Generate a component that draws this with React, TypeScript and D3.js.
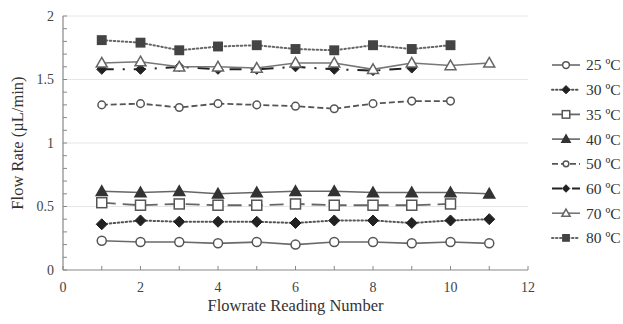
import React from "react";
import * as d3 from "d3";

const readings25 = [1, 2, 3, 4, 5, 6, 7, 8, 9, 10, 11];
const flow25 = [0.23, 0.22, 0.22, 0.21, 0.22, 0.2, 0.22, 0.22, 0.21, 0.22, 0.21];
const readings30 = [1, 2, 3, 4, 5, 6, 7, 8, 9, 10, 11];
const flow30 = [0.36, 0.39, 0.38, 0.38, 0.38, 0.37, 0.39, 0.39, 0.37, 0.39, 0.4];
const readings35 = [1, 2, 3, 4, 5, 6, 7, 8, 9, 10];
const flow35 = [0.53, 0.51, 0.52, 0.51, 0.51, 0.52, 0.51, 0.51, 0.51, 0.52];
const readings40 = [1, 2, 3, 4, 5, 6, 7, 8, 9, 10, 11];
const flow40 = [0.62, 0.61, 0.62, 0.6, 0.61, 0.62, 0.62, 0.61, 0.61, 0.61, 0.6];
const readings50 = [1, 2, 3, 4, 5, 6, 7, 8, 9, 10];
const flow50 = [1.3, 1.31, 1.28, 1.31, 1.3, 1.29, 1.27, 1.31, 1.33, 1.33];
const readings60 = [1, 2, 3, 4, 5, 6, 7, 8, 9];
const flow60 = [1.58, 1.58, 1.6, 1.58, 1.58, 1.6, 1.58, 1.57, 1.59];
const readings70 = [1, 2, 3, 4, 5, 6, 7, 8, 9, 10, 11];
const flow70 = [1.63, 1.64, 1.6, 1.6, 1.59, 1.63, 1.63, 1.58, 1.63, 1.61, 1.63];
const readings80 = [1, 2, 3, 4, 5, 6, 7, 8, 9, 10];
const flow80 = [1.81, 1.79, 1.73, 1.76, 1.77, 1.74, 1.73, 1.77, 1.74, 1.77];

const seriesNames = ["25 ºC", "30 ºC", "35 ºC", "40 ºC", "50 ºC", "60 ºC", "70 ºC", "80 ºC"];
const xTicks = [0, 2, 4, 6, 8, 10, 12];
const yTicks = [0, 0.5, 1, 1.5, 2];
const xTitle = "Flowrate Reading Number";
const yTitle = "Flow Rate (µL/min)";

type Style = {
  stroke: string;
  width: number;
  dash: string;
  marker: "circle" | "diamond" | "square" | "triangle" | "smallcircle";
  fill: string;
  mstroke: string;
  size: number;
};

const styles: Style[] = [
  { stroke: "#6a6a6a", width: 1.6, dash: "", marker: "circle", fill: "#fff", mstroke: "#555", size: 4.5 },
  { stroke: "#555", width: 2, dash: "1.5,2.5", marker: "diamond", fill: "#222", mstroke: "#222", size: 5.5 },
  { stroke: "#666", width: 1.8, dash: "14,7", marker: "square", fill: "#fff", mstroke: "#555", size: 5 },
  { stroke: "#666", width: 1.6, dash: "", marker: "triangle", fill: "#333", mstroke: "#333", size: 5.5 },
  { stroke: "#555", width: 1.8, dash: "6,3", marker: "smallcircle", fill: "#fff", mstroke: "#555", size: 3.8 },
  { stroke: "#222", width: 2, dash: "12,9,2,9", marker: "diamond", fill: "#222", mstroke: "#222", size: 5 },
  { stroke: "#777", width: 1.6, dash: "", marker: "triangle", fill: "#fff", mstroke: "#666", size: 5.5 },
  { stroke: "#666", width: 2, dash: "1.5,2.5", marker: "square", fill: "#444", mstroke: "#444", size: 4.2 },
];

const allX = [readings25, readings30, readings35, readings40, readings50, readings60, readings70, readings80];
const allY = [flow25, flow30, flow35, flow40, flow50, flow60, flow70, flow80];

function Marker({ s, x, y }: { s: Style; x: number; y: number }) {
  const r = s.size;
  if (s.marker === "circle" || s.marker === "smallcircle")
    return <circle cx={x} cy={y} r={r} fill={s.fill} stroke={s.mstroke} strokeWidth={1.5} />;
  if (s.marker === "square")
    return <rect x={x - r} y={y - r} width={2 * r} height={2 * r} fill={s.fill} stroke={s.mstroke} strokeWidth={1.5} />;
  if (s.marker === "diamond")
    return <path d={`M${x},${y - r}L${x + r},${y}L${x},${y + r}L${x - r},${y}Z`} fill={s.fill} stroke={s.mstroke} strokeWidth={1} />;
  return (
    <path
      d={`M${x},${y - r}L${x + r},${y + r * 0.75}L${x - r},${y + r * 0.75}Z`}
      fill={s.fill}
      stroke={s.mstroke}
      strokeWidth={1.5}
    />
  );
}

export default function App() {
  const W = 623;
  const H = 324;
  const x = d3.scaleLinear().domain([0, 12]).range([63, 528]);
  const y = d3.scaleLinear().domain([0, 2]).range([270, 16]);
  const line = d3.line<[number, number]>().x((d) => x(d[0])).y((d) => y(d[1]));
  const minorY = d3.range(0, 2.0001, 0.1);
  const minorX = d3.range(0, 12.0001, 1);
  const font = "Liberation Serif, Tinos, DejaVu Serif, Times New Roman, serif";
  const ts = { fontFamily: font };

  return (
    <svg width={W} height={H} style={{ position: "absolute", left: 0, top: 0, background: "#fff" }}>
      {yTicks.slice(1).map((t) => (
        <line key={"g" + t} x1={x(0)} x2={x(12)} y1={y(t)} y2={y(t)} stroke="#e6e6e6" strokeWidth={1} />
      ))}
      {/* axes */}
      <line x1={x(0)} x2={x(0)} y1={y(0)} y2={y(2)} stroke="#888" strokeWidth={1.2} />
      <line x1={x(0)} x2={x(12)} y1={y(0)} y2={y(0)} stroke="#888" strokeWidth={1.2} />
      {minorY.map((t, i) => (
        <line key={"ty" + i} x1={x(0)} x2={x(0) + 4} y1={y(t)} y2={y(t)} stroke="#888" strokeWidth={1} />
      ))}
      {minorX.map((t, i) => (
        <line key={"tx" + i} x1={x(t)} x2={x(t)} y1={y(0)} y2={y(0) - 4} stroke="#888" strokeWidth={1} />
      ))}
      {yTicks.map((t) => (
        <text key={"yl" + t} x={x(0) - 9} y={y(t)} dy="0.35em" textAnchor="end" style={ts} fontSize={14} fill="#444">
          {String(t)}
        </text>
      ))}
      {xTicks.map((t) => (
        <text key={"xl" + t} x={x(t)} y={y(0) + 22} textAnchor="middle" style={ts} fontSize={14} fill="#444">
          {String(t)}
        </text>
      ))}
      <text x={(x(0) + x(12)) / 2} y={311} textAnchor="middle" style={ts} fontSize={16.5} fill="#333">
        {xTitle}
      </text>
      <text
        transform={`translate(17,${y(1)}) rotate(-90)`}
        textAnchor="middle"
        dy="0.35em"
        style={ts}
        fontSize={16.5}
        fill="#333"
      >
        {yTitle}
      </text>
      {/* series */}
      {allX.map((xs, i) => {
        const s = styles[i];
        const pts: [number, number][] = xs.map((v, j) => [v, allY[i][j]]);
        return (
          <g key={"s" + i}>
            <path
              d={line(pts) || ""}
              fill="none"
              stroke={s.stroke}
              strokeWidth={s.width}
              strokeDasharray={s.dash || undefined}
              strokeLinecap={s.dash.startsWith("1.5") ? "round" : "butt"}
            />
            {pts.map((p, j) => (
              <Marker key={j} s={s} x={x(p[0])} y={y(p[1])} />
            ))}
          </g>
        );
      })}
      {/* legend */}
      {seriesNames.map((name, i) => {
        const s = styles[i];
        const ly = 65 + i * 24.7;
        return (
          <g key={"l" + i}>
            <line
              x1={552}
              x2={580}
              y1={ly}
              y2={ly}
              stroke={s.stroke}
              strokeWidth={s.width}
              strokeDasharray={s.dash ? (i === 5 ? "10,4,2,4" : i === 2 ? "30,0" : s.dash) : undefined}
              strokeLinecap={s.dash.startsWith("1.5") ? "round" : "butt"}
            />
            <Marker s={{ ...s, size: s.size * 0.75 }} x={566} y={ly} />
            <text x={586} y={ly} dy="0.35em" style={ts} fontSize={15.5} fill="#333">
              {name}
            </text>
          </g>
        );
      })}
    </svg>
  );
}
